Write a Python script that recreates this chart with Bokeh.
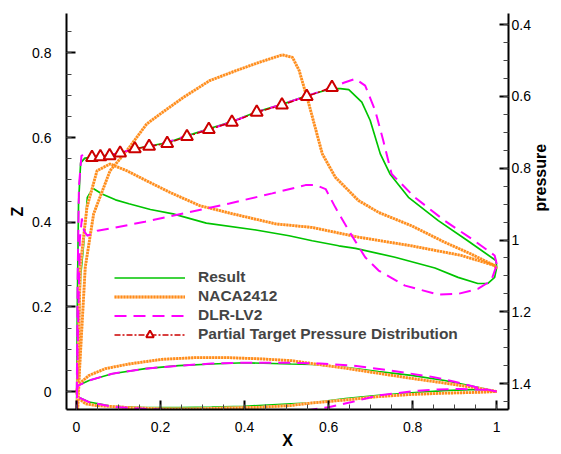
import math
from bokeh.plotting import figure
from bokeh.models import Range1d, LinearAxis, FixedTicker, Legend, LegendItem
from bokeh.embed import file_html
from bokeh.resources import INLINE

# ---------------- pressure distributions (right axis) ----------------
# Result
res_up_x = [0.0, 0.002, 0.005, 0.010, 0.020, 0.037, 0.057, 0.079, 0.104, 0.139, 0.173, 0.216, 0.263, 0.315,
            0.370, 0.429, 0.489, 0.548, 0.608, 0.628, 0.648, 0.679, 0.699, 0.723, 0.746, 0.790, 0.861, 0.931, 0.998, 1.0]
res_up_p = [1.55, 1.20, 0.90, 0.785, 0.772, 0.770, 0.767, 0.763, 0.757, 0.746, 0.738, 0.729, 0.710, 0.690,
            0.670, 0.643, 0.622, 0.598, 0.578, 0.578, 0.581, 0.616, 0.667, 0.760, 0.816, 0.881, 0.946, 1.002, 1.057, 1.076]
res_lo_x = [0.0, 0.004, 0.010, 0.018, 0.026, 0.039, 0.061, 0.093, 0.125, 0.176, 0.230, 0.309, 0.427, 0.506,
            0.561, 0.624, 0.664, 0.758, 0.853, 0.908, 0.955, 0.979, 0.995, 1.0]
res_lo_p = [1.55, 1.30, 1.10, 1.002, 0.881, 0.856, 0.872, 0.888, 0.899, 0.915, 0.927, 0.953, 0.972, 0.988,
            1.002, 1.016, 1.023, 1.048, 1.078, 1.104, 1.121, 1.121, 1.104, 1.076]
# NACA2412
naca_up_x = [0.0, 0.008, 0.021, 0.041, 0.080, 0.120, 0.167, 0.199, 0.254, 0.317, 0.380, 0.435, 0.490, 0.514,
             0.530, 0.553, 0.585, 0.616, 0.671, 0.719, 0.797, 0.876, 0.939, 0.995, 1.0]
naca_up_p = [1.55, 1.35, 1.076, 0.927, 0.807, 0.751, 0.677, 0.649, 0.603, 0.556, 0.528, 0.505, 0.484, 0.491,
             0.528, 0.621, 0.760, 0.825, 0.890, 0.923, 0.960, 1.006, 1.039, 1.071, 1.080]
naca_lo_x = [0.0, 0.005, 0.009, 0.025, 0.049, 0.080, 0.120, 0.167, 0.222, 0.293, 0.372, 0.474, 0.561, 0.671,
             0.797, 0.916, 0.995, 1.0]
naca_lo_p = [1.55, 1.30, 1.076, 0.909, 0.807, 0.788, 0.807, 0.835, 0.867, 0.904, 0.927, 0.955, 0.965, 0.992,
             1.016, 1.043, 1.071, 1.080]
# DLR-LV2
dlr_up_x = [0.0, 0.003, 0.006, 0.012, 0.020, 0.030, 0.045, 0.080, 0.140, 0.200, 0.260, 0.320, 0.370, 0.430,
            0.490, 0.550, 0.610, 0.636, 0.664, 0.687, 0.711, 0.730, 0.750, 0.805, 0.876, 0.947, 0.995, 1.0]
dlr_up_p = [1.55, 1.10, 0.85, 0.765, 0.762, 0.776, 0.772, 0.764, 0.746, 0.733, 0.711, 0.690, 0.671, 0.643,
            0.622, 0.598, 0.575, 0.562, 0.551, 0.570, 0.640, 0.723, 0.816, 0.881, 0.946, 1.002, 1.043, 1.067]
dlr_lo_x = [0.0, 0.003, 0.008, 0.013, 0.018, 0.026, 0.050, 0.093, 0.163, 0.254, 0.364, 0.466, 0.545, 0.569,
            0.593, 0.616, 0.648, 0.687, 0.719, 0.782, 0.861, 0.908, 0.955, 0.987, 0.998, 1.0]
dlr_lo_p = [1.55, 1.30, 1.00, 0.940, 0.974, 0.988, 0.974, 0.965, 0.949, 0.926, 0.898, 0.870, 0.847, 0.847,
            0.858, 0.909, 0.974, 1.048, 1.085, 1.127, 1.152, 1.150, 1.136, 1.113, 1.076, 1.067]
# Partial target pressure distribution
tgt_x = [0.037, 0.057, 0.079, 0.104, 0.139, 0.173, 0.216, 0.263, 0.315, 0.370, 0.429, 0.489, 0.548, 0.608]
tgt_p = [0.770, 0.768, 0.765, 0.758, 0.746, 0.739, 0.731, 0.712, 0.692, 0.672, 0.644, 0.624, 0.600, 0.575]

# ---------------- airfoil geometry (left axis) ----------------
naca_zu_x = [0.0, 0.004, 0.030, 0.069, 0.125, 0.203, 0.282, 0.361, 0.440, 0.511, 0.561, 0.640, 0.719, 0.797, 0.876, 0.955, 1.0]
naca_zu = [0.0, 0.016, 0.038, 0.054, 0.065, 0.076, 0.080, 0.080, 0.077, 0.073, 0.066, 0.055, 0.043, 0.031, 0.020, 0.008, 0.0]
naca_zl_x = [0.0, 0.004, 0.022, 0.046, 0.125, 0.203, 0.282, 0.361, 0.440, 0.511, 0.561, 0.640, 0.719, 0.797, 0.876, 0.955, 1.0]
naca_zl = [0.0, -0.015, -0.029, -0.033, -0.038, -0.041, -0.041, -0.039, -0.037, -0.033, -0.027, -0.020, -0.012, -0.007, -0.004, -0.002, 0.0]
res_zu_x = [0.0, 0.004, 0.030, 0.085, 0.164, 0.243, 0.322, 0.400, 0.511, 0.561, 0.640, 0.719, 0.797, 0.876, 0.955, 1.0]
res_zu = [0.0, 0.014, 0.026, 0.042, 0.054, 0.061, 0.065, 0.068, 0.065, 0.064, 0.057, 0.047, 0.038, 0.026, 0.010, 0.0]
res_zl_x = [0.0, 0.004, 0.030, 0.085, 0.164, 0.243, 0.322, 0.400, 0.511, 0.561, 0.640, 0.719, 0.797, 0.876, 0.955, 1.0]
res_zl = [0.0, -0.013, -0.025, -0.035, -0.038, -0.038, -0.037, -0.035, -0.029, -0.027, -0.017, -0.009, -0.003, 0.002, 0.005, 0.0]
dlr_zu_x = [0.0, 0.004, 0.030, 0.085, 0.164, 0.243, 0.322, 0.400, 0.500, 0.580, 0.660, 0.730, 0.850, 0.900, 0.960, 1.0]
dlr_zu = [0.0, 0.014, 0.026, 0.042, 0.054, 0.061, 0.066, 0.068, 0.068, 0.066, 0.061, 0.052, 0.034, 0.023, 0.008, 0.0]
dlr_zl_x = [0.0, 0.004, 0.030, 0.085, 0.164, 0.243, 0.322, 0.400, 0.480, 0.540, 0.600, 0.655, 0.719, 0.813, 0.861, 0.916, 0.971, 1.0]
dlr_zl = [0.0, -0.013, -0.025, -0.036, -0.041, -0.045, -0.047, -0.049, -0.049, -0.046, -0.037, -0.025, -0.009, 0.002, 0.005, 0.006, 0.004, 0.0]

# ---------------- ticks ----------------
x_ticks = [0, 0.2, 0.4, 0.6, 0.8, 1]
x_tick_labels = ["0", "0.2", "0.4", "0.6", "0.8", "1"]
z_ticks = [0, 0.2, 0.4, 0.6, 0.8]
z_tick_labels = ["0", "0.2", "0.4", "0.6", "0.8"]
p_ticks = [0.4, 0.6, 0.8, 1, 1.2, 1.4]
p_tick_labels = ["0.4", "0.6", "0.8", "1", "1.2", "1.4"]
series_names = ["Result", "NACA2412", "DLR-LV2", "Partial Target Pressure Distribution"]


def loop(xu, yu, xl, yl):
    return list(reversed(xu)) + list(xl[1:]), list(reversed(yu)) + list(yl[1:])


FONT = "Liberation Sans"
p = figure(width=560, height=454, output_backend="svg", toolbar_location=None,
           x_range=Range1d(-0.0236, 1.028), y_range=Range1d(-0.0425, 0.893),
           min_border_left=66, min_border_right=49, min_border_top=13, min_border_bottom=45)
p.extra_y_ranges = {"pr": Range1d(start=1.472, end=0.369)}
p.outline_line_color = None
p.xgrid.visible = False
p.ygrid.visible = False
p.background_fill_color = "white"

GREEN = "#00c400"
MAG = "#ff00ff"
ORG = "#ff8c1a"
ORG_L = "#ffd6ad"
RED = "#cc0000"

# Result
gx, gp = loop(res_up_x, res_up_p, res_lo_x, res_lo_p)
r_res1 = p.line(gx, gp, y_range_name="pr", line_color=GREEN, line_width=1.7)
ax_, az_ = loop(res_zu_x, res_zu, res_zl_x, res_zl)
r_res2 = p.line(ax_, az_, line_color=GREEN, line_width=1.7)

# NACA2412
nx, npp = loop(naca_up_x, naca_up_p, naca_lo_x, naca_lo_p)
r_n1 = p.line(nx, npp, y_range_name="pr", line_color=ORG_L, line_width=2.8)
r_n2 = p.line(nx, npp, y_range_name="pr", line_color=ORG, line_width=2.8, line_dash="2 1")
nzx, nz = loop(naca_zu_x, naca_zu, naca_zl_x, naca_zl)
r_n3 = p.line(nzx, nz, line_color=ORG_L, line_width=2.8)
r_n4 = p.line(nzx, nz, line_color=ORG, line_width=2.8, line_dash="2 1")

# DLR-LV2
dx, dp = loop(dlr_up_x, dlr_up_p, dlr_lo_x, dlr_lo_p)
r_d1 = p.line(dx, dp, y_range_name="pr", line_color=MAG, line_width=2, line_dash="12 7")
dzx, dz = loop(dlr_zu_x, dlr_zu, dlr_zl_x, dlr_zl)
r_d2 = p.line(dzx, dz, line_color=MAG, line_width=2, line_dash="12 7")

# Partial target
r_t1 = p.line(tgt_x, tgt_p, y_range_name="pr", line_color=RED, line_width=1.5, line_dash="6 2 2 2")
r_t2 = p.scatter(tgt_x, tgt_p, y_range_name="pr", marker="triangle", size=12,
                 line_color=RED, line_width=2, fill_color="white")

# axes
p.xaxis.ticker = FixedTicker(ticks=x_ticks, minor_ticks=[i * 0.05 for i in range(0, 21)])
p.xaxis.major_label_overrides = dict(zip(x_ticks, x_tick_labels))
p.yaxis.ticker = FixedTicker(ticks=z_ticks, minor_ticks=[i * 0.05 for i in range(-1, 18)])
p.yaxis.major_label_overrides = dict(zip(z_ticks, z_tick_labels))
rax = LinearAxis(y_range_name="pr", ticker=FixedTicker(ticks=p_ticks, minor_ticks=[0.4 + i * 0.05 for i in range(0, 22)]))
rax.major_label_overrides = dict(zip(p_ticks, p_tick_labels))
p.add_layout(rax, "right")

for ax in [p.xaxis[0], p.yaxis[0], rax]:
    ax.axis_line_width = 2
    ax.axis_line_color = "black"
    ax.major_tick_in = 9
    ax.major_tick_out = 0
    ax.minor_tick_in = 5
    ax.minor_tick_out = 0
    ax.major_tick_line_width = 2
    ax.minor_tick_line_width = 1
    ax.major_tick_line_color = "black"
    ax.minor_tick_line_color = "#444444"
    ax.major_label_text_font = FONT
    ax.major_label_text_font_size = "14px"
    ax.major_label_text_color = "black"
    ax.axis_label_text_font = FONT
    ax.axis_label_text_font_style = "bold"
    ax.axis_label_text_font_size = "16px"
    ax.axis_label_text_color = "black"

p.yaxis[0].major_label_standoff = 15
p.yaxis[0].axis_label = "Z"
p.yaxis[0].axis_label_standoff = 3
p.xaxis[0].major_label_standoff = 12
p.xaxis[0].axis_label = "X"
p.xaxis[0].axis_label_standoff = -3
rax.major_label_standoff = 3
rax.axis_label = "pressure"
rax.axis_label_standoff = 7
try:
    rax.axis_label_orientation = math.pi / 2
except Exception:
    pass

legend = Legend(items=[
    LegendItem(label=series_names[0], renderers=[r_res1]),
    LegendItem(label=series_names[1], renderers=[r_n1, r_n2]),
    LegendItem(label=series_names[2], renderers=[r_d1]),
    LegendItem(label=series_names[3], renderers=[r_t1, r_t2]),
], location=(48, 65.5), label_text_font=FONT, label_text_font_style="bold",
    label_text_font_size="15.5px", glyph_width=71, glyph_height=19, label_height=19,
    spacing=0, padding=0, margin=0, border_line_color=None, background_fill_alpha=0,
    label_standoff=13)
p.add_layout(legend)

open("out.html", "w").write(file_html(p, INLINE))
